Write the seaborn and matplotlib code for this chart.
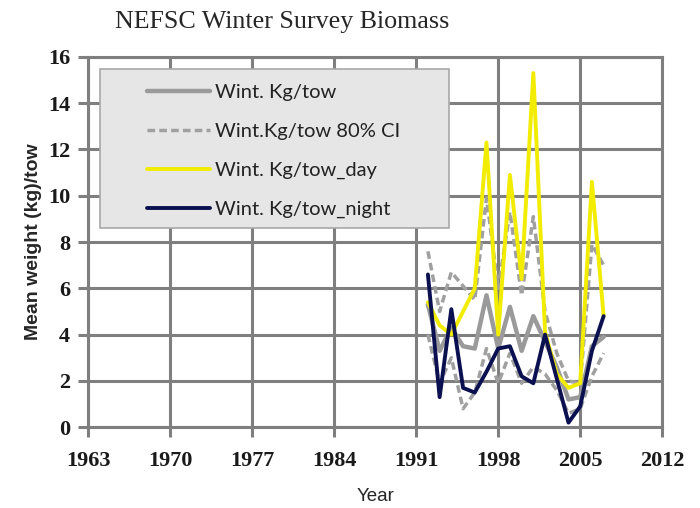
import matplotlib
matplotlib.use("Agg")
import matplotlib.pyplot as plt
from matplotlib.patches import Rectangle
import seaborn as sns

# NEFSC winter survey biomass
years = [1992, 1993, 1994, 1995, 1996, 1997, 1998, 1999,
         2000, 2001, 2002, 2003, 2004, 2005, 2006, 2007]
kg_tow = [5.3, 3.3, 4.3, 3.5, 3.4, 5.7, 3.4, 5.2, 3.3, 4.8, 3.7, 2.6, 1.2, 1.3, 3.5, 3.9]
ci_upper = [7.6, 5.0, 6.7, 6.1, 5.5, 9.9, 6.0, 9.3, 5.7, 9.1, 5.0, 3.2, 2.0, 1.9, 7.9, 7.0]
ci_lower = [4.0, 1.9, 3.0, 0.8, 1.5, 3.4, 1.9, 3.2, 1.9, 2.6, 2.3, 1.6, 0.6, 0.8, 2.2, 3.2]
kg_day = [5.4, 4.4, 4.0, 5.0, 6.0, 12.3, 4.0, 10.9, 6.4, 15.3, 4.1, 2.3, 1.7, 1.9, 10.6, 4.8]
kg_night = [6.6, 1.3, 5.1, 1.7, 1.5, 2.4, 3.4, 3.5, 2.2, 1.9, 4.0, 2.1, 0.2, 0.9, 3.3, 4.8]

x_ticks = [1963, 1970, 1977, 1984, 1991, 1998, 2005, 2012]
y_ticks = [0, 2, 4, 6, 8, 10, 12, 14, 16]

sns.set_style("white")
grid_col = "#7f7f7f"

fig = plt.figure(figsize=(7, 5.08), dpi=100)
ax = fig.add_axes([0.126, 0.159, 0.82, 0.729])

sns.lineplot(x=years, y=kg_tow, ax=ax, color="#9a9a9a", lw=3.2, label="Wint. Kg/tow")
sns.lineplot(x=years, y=ci_upper, ax=ax, color="#a0a0a0", lw=2.5,
             linestyle=(0, (2.2, 1.2)), label="Wint.Kg/tow 80% CI")
sns.lineplot(x=years, y=ci_lower, ax=ax, color="#a0a0a0", lw=2.5,
             linestyle=(0, (2.2, 1.2)), label="_nolegend_")
sns.lineplot(x=years, y=kg_day, ax=ax, color="#f2ec00", lw=2.8, label="Wint. Kg/tow_day")
sns.lineplot(x=years, y=kg_night, ax=ax, color="#0b1150", lw=2.8, label="Wint. Kg/tow_night")

ax.set_xlim(1963, 2012)
ax.set_ylim(0, 16)
ax.set_xticks(x_ticks)
ax.set_yticks(y_ticks)
ax.grid(True, color=grid_col, lw=2.2)
ax.set_axisbelow(True)
for s in ax.spines.values():
    s.set_color(grid_col)
    s.set_linewidth(2.2)
ax.tick_params(direction="out", length=7, width=2.2, color=grid_col,
               left=True, bottom=True)
ax.tick_params(axis="x", pad=10)
ax.tick_params(axis="y", pad=6)
for lab in ax.get_xticklabels() + ax.get_yticklabels():
    lab.set_fontfamily("Liberation Serif")
    lab.set_fontweight("bold")
    lab.set_fontsize(16)
    lab.set_color("#1a1a1a")

ax.set_xlabel("Year", fontsize=13.5, family="Liberation Sans", labelpad=12)
ax.set_ylabel("Mean weight (kg)/tow", fontsize=14, family="Liberation Sans",
              fontweight="bold", labelpad=4)

fig.text(0.403, 0.957, "NEFSC Winter Survey Biomass", ha="center", va="center",
         family="Liberation Serif", fontsize=18.7)

# legend frame drawn separately so the handles can sit inset like the original
ax.add_patch(Rectangle((0.021, 0.538), 0.608, 0.430, transform=ax.transAxes,
                       facecolor="#e6e6e6", edgecolor="#a8a8a8", lw=1.2, zorder=4))
leg = ax.legend(loc="upper left", bbox_to_anchor=(0.103, 0.926),
                prop={"family": "Lato", "size": 14.5},
                frameon=False, handlelength=3.1, handletextpad=0.25,
                labelspacing=1.07, borderpad=0, borderaxespad=0)
leg.set_zorder(5)
for t in leg.get_texts():
    t.set_color("#222222")

fig.savefig("out.png", dpi=100)
